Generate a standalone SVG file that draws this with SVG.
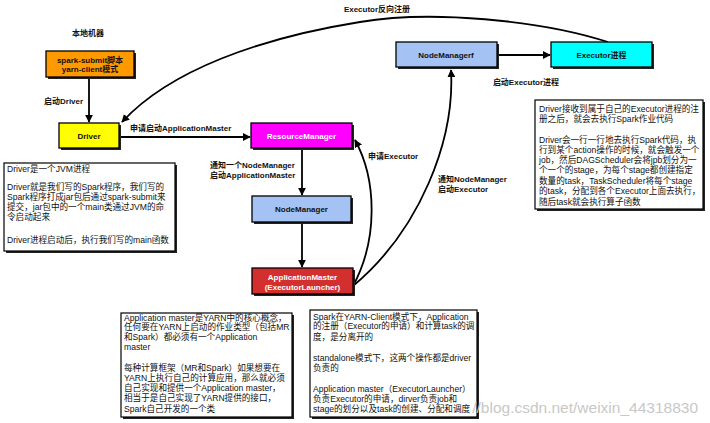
<svg xmlns="http://www.w3.org/2000/svg" width="710" height="423" viewBox="0 0 710 423">
<defs>
<marker id="ah" viewBox="0 0 10 10" refX="9" refY="5" markerWidth="8" markerHeight="8" markerUnits="userSpaceOnUse" orient="auto">
<path d="M0,0 L10,5 L0,10 z" fill="#000"/>
</marker>
<style>
.lbl{font-family:"Liberation Sans","Noto Sans CJK SC",sans-serif;font-size:8px;font-weight:bold;fill:#111}
.ctr{text-anchor:middle}
.wt{fill:#fff}
.note{font-family:"Liberation Sans","Noto Sans CJK SC",sans-serif;font-size:8.6px;fill:#111}
.box{stroke:#000;stroke-width:1.3}
.sh{fill:#222}
.nbox{fill:#fff;stroke:#000;stroke-width:1.2}
.conn{fill:none;stroke:#000;stroke-width:1.8;marker-end:url(#ah)}
.wm{font-family:"Liberation Sans",sans-serif;font-size:15.5px;fill:#c8c8c8;text-anchor:end}
</style>
</defs>
<rect width="710" height="423" fill="#fff"/>

<g id="connectors">
<line class="conn" x1="89" y1="78" x2="89" y2="122"/>
<line class="conn" x1="120" y1="137" x2="250" y2="137"/>
<line class="conn" x1="302" y1="149" x2="302" y2="195"/>
<line class="conn" x1="302" y1="223" x2="302" y2="267"/>
<path class="conn" d="M353,286 C378,240 377,180 355,140"/>
<path class="conn" d="M353,286 C420,230 455,140 451,70"/>
<line class="conn" x1="498" y1="55" x2="550" y2="55"/>
<path class="conn" d="M608,42 C540,20 430,10 360,22 C260,38 170,70 122,122"/>
<text class="lbl" x="44" y="104">启动Driver</text>
<text class="lbl" x="130" y="131">申请启动ApplicationMaster</text>
<text class="lbl" x="210" y="168">通知一个NodeManager</text>
<text class="lbl" x="210" y="178">启动ApplicationMaster</text>
<text class="lbl" x="368" y="159">申请Executor</text>
<text class="lbl" x="438" y="182">通知NodeManager</text>
<text class="lbl" x="438" y="192">启动Executor</text>
<text class="lbl ctr" x="526" y="85">启动Executor进程</text>
<text class="lbl ctr" x="377" y="12">Executor反向注册</text>
</g>

<g id="local-title">
<text class="lbl" x="72" y="36">本地机器</text>
</g>

<g id="spark-submit">
<rect class="sh" x="48" y="53" width="88" height="26"/>
<rect class="box" x="46" y="51" width="88" height="26" fill="#ff9900"/>
<text class="lbl ctr" x="90" y="63">spark-submit脚本</text>
<text class="lbl ctr" x="90" y="72">yarn-client模式</text>
</g>

<g id="driver">
<rect class="sh" x="61" y="125" width="60" height="25"/>
<rect class="box" x="59" y="123" width="60" height="25" fill="#ffff00"/>
<text class="lbl ctr" x="89" y="138.5">Driver</text>
</g>

<g id="resourcemanager">
<rect class="sh" x="253" y="125" width="101" height="25"/>
<rect class="box" x="251" y="123" width="101" height="25" fill="#ff00ff"/>
<text class="lbl ctr wt" x="301.5" y="138.5">ResourceManager</text>
</g>

<g id="nodemanager">
<rect class="sh" x="254" y="198" width="99" height="26"/>
<rect class="box" x="252" y="196" width="99" height="26" fill="#a4c2f4"/>
<text class="lbl ctr" x="301.5" y="212">NodeManager</text>
</g>

<g id="applicationmaster">
<rect class="sh" x="254" y="270" width="101" height="26"/>
<rect class="box" x="252" y="268" width="101" height="26" fill="#d32f2f"/>
<text class="lbl ctr wt" x="302.5" y="280">ApplicationMaster</text>
<text class="lbl ctr wt" x="302.5" y="290">(ExecutorLauncher)</text>
</g>

<g id="nodemanagerf">
<rect class="sh" x="398" y="44" width="101" height="25"/>
<rect class="box" x="396" y="42" width="101" height="25" fill="#a4c2f4"/>
<text class="lbl ctr" x="446" y="57.5">NodeManagerf</text>
</g>

<g id="executor">
<rect class="sh" x="553" y="44" width="101" height="25"/>
<rect class="box" x="551" y="42" width="101" height="25" fill="#00ffff"/>
<text class="lbl ctr" x="601.5" y="57.5">Executor进程</text>
</g>

<g id="note-driver">
<rect class="sh" x="6" y="165" width="171" height="88"/>
<rect class="nbox" x="4" y="163" width="171" height="88"/>
<text class="note" x="7" y="172">Driver是一个JVM进程</text>
<text class="note" x="7" y="190">Driver就是我们写的Spark程序，我们写的</text>
<text class="note" x="7" y="200">Spark程序打成jar包后通过spark-submit来</text>
<text class="note" x="7" y="210">提交，jar包中的一个main类通过JVM的命</text>
<text class="note" x="7" y="220">令启动起来</text>
<text class="note" x="7" y="243">Driver进程启动后，执行我们写的main函数</text>
</g>

<g id="note-executor">
<rect class="sh" x="537" y="102" width="168" height="109"/>
<rect class="nbox" x="535" y="100" width="168" height="109"/>
<text class="note" x="539" y="112">Driver接收到属于自己的Executor进程的注</text>
<text class="note" x="539" y="122">册之后，就会去执行Spark作业代码</text>
<text class="note" x="539" y="143">Driver会一行一行地去执行Spark代码，执</text>
<text class="note" x="539" y="153">行到某个action操作的时候，就会触发一个</text>
<text class="note" x="539" y="163">job，然后DAGScheduler会将jpb划分为一</text>
<text class="note" x="539" y="173">个一个的stage，为每个stage都创建指定</text>
<text class="note" x="539" y="184">数量的task，TaskScheduler将每个stage</text>
<text class="note" x="539" y="194">的task，分配到各个Executor上面去执行，</text>
<text class="note" x="539" y="205">随后task就会执行算子函数</text>
</g>

<g id="note-am">
<rect class="sh" x="123" y="315" width="171" height="104"/>
<rect class="nbox" x="121" y="313" width="171" height="104"/>
<text class="note" x="124" y="320.5">Application master是YARN中的核心概念，</text>
<text class="note" x="124" y="330">任何要在YARN上启动的作业类型（包括MR</text>
<text class="note" x="124" y="340">和Spark）都必须有一个Application</text>
<text class="note" x="124" y="350">master</text>
<text class="note" x="124" y="371">每种计算框架（MR和Spark）如果想要在</text>
<text class="note" x="124" y="381">YARN上执行自己的计算应用，那么就必须</text>
<text class="note" x="124" y="391">自己实现和提供一个Application master，</text>
<text class="note" x="124" y="401">相当于是自己实现了YARN提供的接口，</text>
<text class="note" x="124" y="412">Spark自己开发的一个类</text>
</g>

<g id="note-yarn-client">
<rect class="sh" x="312" y="312" width="167" height="107"/>
<rect class="nbox" x="310" y="310" width="167" height="107"/>
<text class="note" x="313" y="319.5">Spark在YARN-Client模式下，Application</text>
<text class="note" x="313" y="329">的注册（Executor的申请）和计算task的调</text>
<text class="note" x="313" y="340">度，是分离开的</text>
<text class="note" x="313" y="361">standalone模式下，这两个操作都是driver</text>
<text class="note" x="313" y="371">负责的</text>
<text class="note" x="313" y="392">Application master（ExecutorLauncher）</text>
<text class="note" x="313" y="402">负责Executor的申请，dirver负责job和</text>
<text class="note" x="313" y="412">stage的划分以及task的创建、分配和调度</text>
</g>

<text class="wm" x="698" y="413">//blog.csdn.net/weixin_44318830</text>
</svg>
